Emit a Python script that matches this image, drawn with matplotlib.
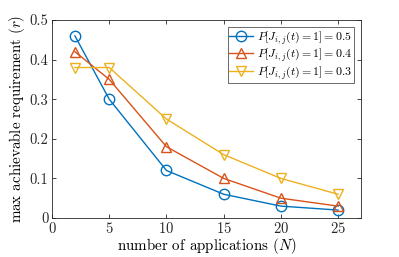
import matplotlib
matplotlib.use("Agg")
import matplotlib.pyplot as plt

N = [2, 5, 10, 15, 20, 25]
r_05 = [0.46, 0.30, 0.12, 0.06, 0.03, 0.02]
r_04 = [0.42, 0.35, 0.18, 0.10, 0.05, 0.03]
r_03 = [0.38, 0.38, 0.25, 0.16, 0.10, 0.06]
labels = [r"$P[J_{i,j}(t)=1]=0.5$", r"$P[J_{i,j}(t)=1]=0.4$", r"$P[J_{i,j}(t)=1]=0.3$"]

plt.rcParams['font.family'] = 'serif'
plt.rcParams['font.serif'] = ['cmr10']
plt.rcParams['mathtext.fontset'] = 'cm'
plt.rcParams['axes.formatter.use_mathtext'] = True

fig = plt.figure(figsize=(3.99, 2.57), dpi=100)
ax = fig.add_axes([52/399, 1-218/257, (361-52)/399, (218-20)/257])

ax.plot(N, r_05, color='#0072BD', marker='o', mfc='none', ms=7.5, lw=1, label=labels[0])
ax.plot(N, r_04, color='#D95319', marker='^', mfc='none', ms=7.5, lw=1, label=labels[1])
ax.plot(N, r_03, color='#EDB120', marker='v', mfc='none', ms=7.5, lw=1, label=labels[2])

ax.set_xlim(0, 27)
ax.set_ylim(0, 0.5)
ax.set_xticks([0, 5, 10, 15, 20, 25])
ax.set_yticks([0, 0.1, 0.2, 0.3, 0.4, 0.5])
ax.set_yticklabels(['0', '0.1', '0.2', '0.3', '0.4', '0.5'])
ax.tick_params(direction='in', top=True, right=True, labelsize=10.5, length=3, colors='#262626', width=0.6, pad=2.5)
for s in ax.spines.values():
    s.set_color('#262626')
    s.set_linewidth(0.6)
ax.set_xlabel(r"number of applications $(N)$", fontsize=10.8, labelpad=0)
ax.set_ylabel(r"max achievable requirement $(r)$", fontsize=10.8, labelpad=2)
leg = ax.legend(loc='upper right', fontsize=8.6, frameon=True, fancybox=False, edgecolor='#262626',
                borderpad=0.15, handlelength=2.0, handletextpad=0.3, labelspacing=0.05, borderaxespad=0.6)
leg.get_frame().set_linewidth(0.6)

fig.savefig('out.png', dpi=100)
